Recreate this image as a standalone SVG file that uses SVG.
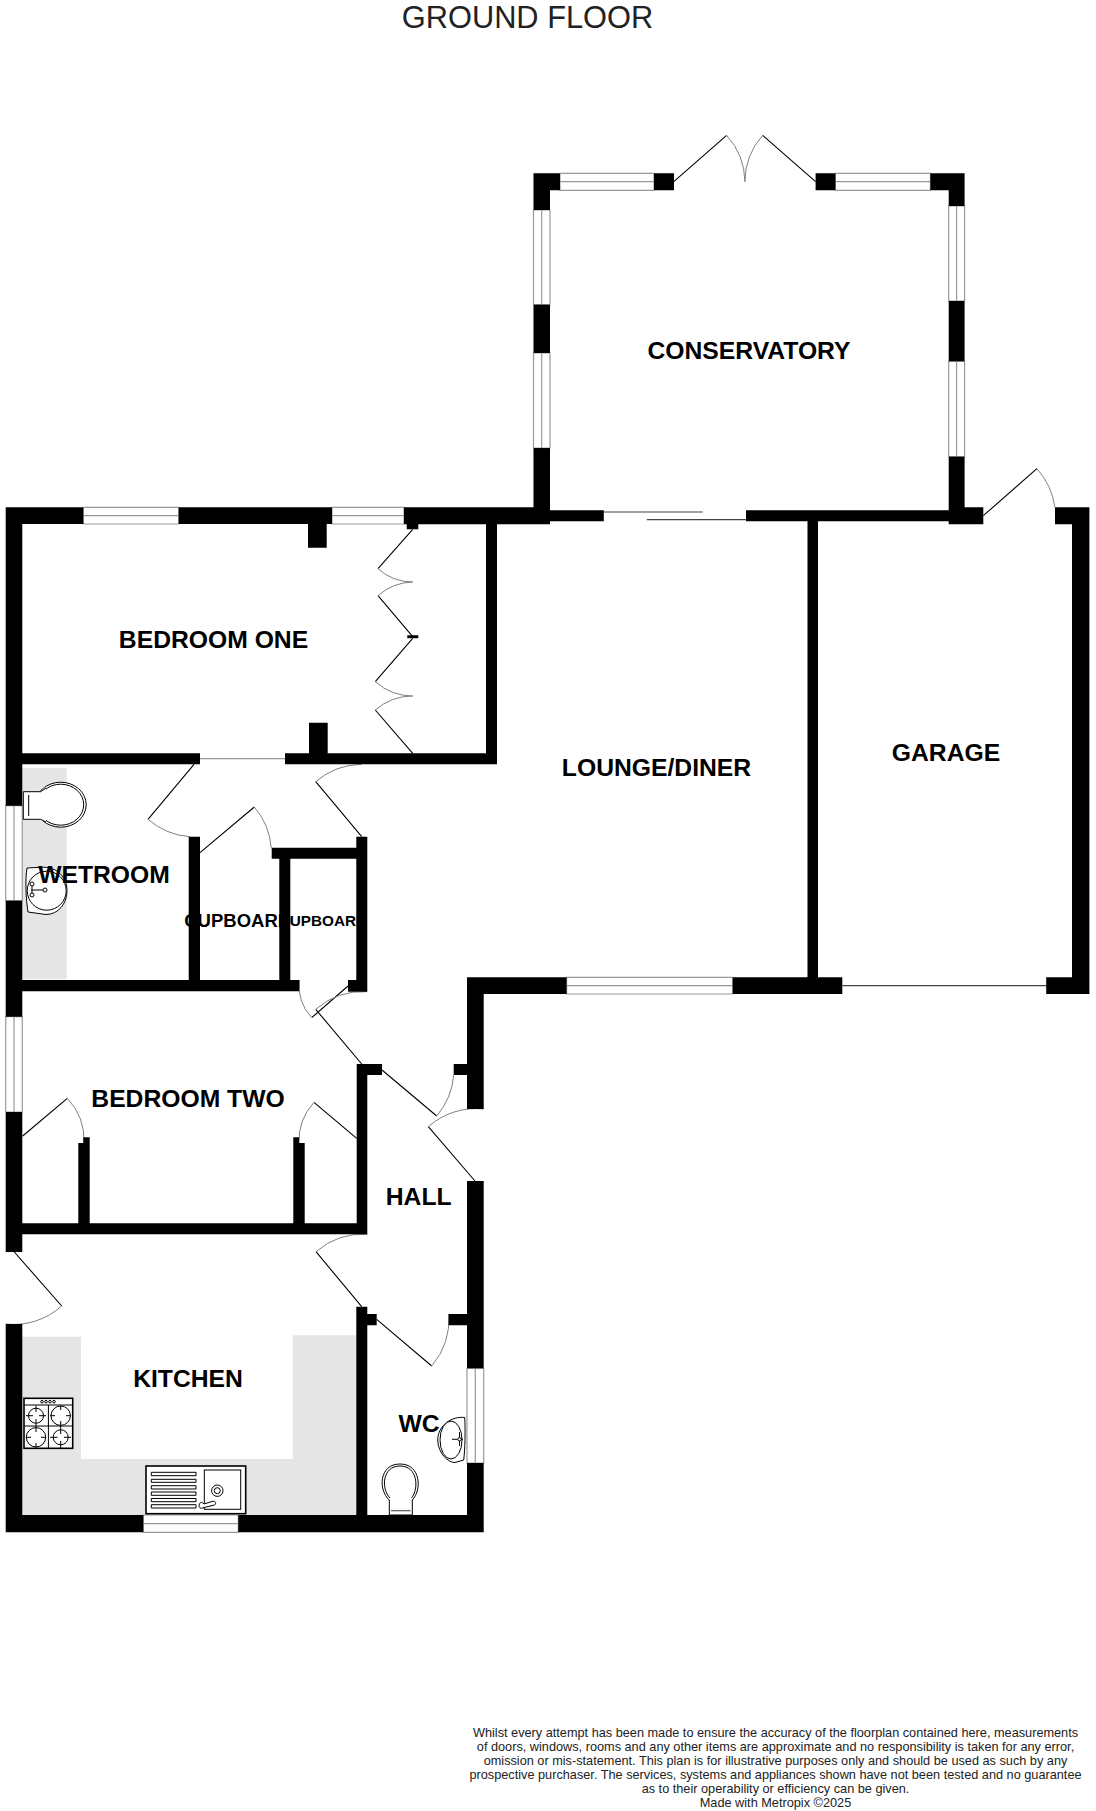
<svg xmlns="http://www.w3.org/2000/svg" width="1096" height="1811" viewBox="0 0 1096 1811">
<style>
text{font-family:"Liberation Sans",Arial,sans-serif;fill:#000;text-anchor:middle}
.room{font-weight:bold;font-size:24.7px}
.note{font-size:12.72px;fill:#222}
.leaf{fill:none;stroke:#000;stroke-width:1.1}
.swing{fill:none;stroke:#808080;stroke-width:1}
.win{fill:#fff;stroke:#999;stroke-width:1.2}
.fx{fill:#fff;stroke:#000;stroke-width:1}
.fxb{fill:#fff;stroke:#000;stroke-width:1.6}
</style>
<rect width="1096" height="1811" fill="#fff"/>
<text x="527.5" y="28" font-size="30.8" style="fill:#222">GROUND FLOOR</text>
<g id="counters" fill="#e5e5e5">
<path d="M22.3 767.7H66.7V979.3H22.3Z"/>
<path d="M22.3 1336.7H81V1459H292.7V1335.3H356.3V1515H22.3Z"/>
</g>
<g id="windows" class="win">
<path d="M560 173.3H654V190.3H560ZM560 181.7H654"/>
<path d="M835.4 173.3H930.4V190.3H835.4ZM835.4 181.7H930.4"/>
<path d="M533.5 210H550V304.7H533.5ZM541.7 210V304.7"/>
<path d="M533.5 353H550V448H533.5ZM541.7 353V448"/>
<path d="M948.7 206H964.6V301H948.7ZM956.6 206V301"/>
<path d="M948.7 361.3H964.6V456.7H948.7ZM956.6 361.3V456.7"/>
<path d="M83.3 507.3H178.7V524H83.3ZM83.3 515.7H178.7"/>
<path d="M332 507.3H404V524H332ZM332 515.7H404"/>
<path d="M5.7 805.7H22.3V900.7H5.7ZM14 805.7V900.7"/>
<path d="M5.7 1016.7H22.3V1112H5.7ZM14 1016.7V1112"/>
<path d="M566.6 977.3H732.7V994H566.6ZM566.6 985.7H732.7"/>
<path d="M143.3 1515H238.3V1532.3H143.3ZM143.3 1523.7H238.3"/>
<path d="M467 1368.3H483.7V1463H467ZM475.3 1368.3V1463"/>
</g>
<g id="fixtures">
<g id="wetroom-toilet">
<ellipse cx="60.7" cy="804.7" rx="25.5" ry="22.5" class="fx"/>
<ellipse cx="60.7" cy="804.7" rx="23" ry="20.5" class="fx"/>
<path d="M40.7 791.7H23.3V819.3H40.7L45 822V787Z" fill="#fff" stroke="none"/>
<path d="M46 788L40.7 791.7H23.3V819.3H40.7L46 822" class="fx"/>
<path d="M28.7 795V816" class="fx"/>
</g>
<g id="wetroom-basin">
<path d="M27 868L40 867.3C58 866 67 878 67 890.7C67 904 58 914.5 46 914.5L28 912C26 900 25 880 27 868Z" class="fx"/>
<circle cx="46.7" cy="890.7" r="19.5" class="fx"/>
<path d="M31 890H44M32 884V897" class="fx"/>
<circle cx="32" cy="884" r="2" class="fx"/><circle cx="32" cy="895" r="2" class="fx"/><circle cx="45" cy="890" r="2" class="fx"/>
</g>
<g id="hob">
<rect x="24" y="1398.3" width="48.7" height="50" class="fxb"/>
<path d="M24 1405H72.7M48.4 1405V1448.3M24 1426H72.7" class="fx"/>
<g class="fx" fill="#fff" stroke-width=".6"><circle cx="42" cy="1401.7" r="1.3"/><circle cx="46" cy="1401.7" r="1.3"/><circle cx="50" cy="1401.7" r="1.3"/><circle cx="54" cy="1401.7" r="1.3"/></g>
<circle cx="36" cy="1415.7" r="7.5" class="fx"/><circle cx="60.7" cy="1415.7" r="9.7" class="fx"/><circle cx="36" cy="1437.3" r="9.7" class="fx"/><circle cx="60.7" cy="1437.3" r="7.5" class="fx"/>
<path d="M36 1405.5V1412M36 1419V1426M26 1415.7H33M39 1415.7H46M60.7 1405.5V1410M60.7 1421V1426M50 1415.7H55M66 1415.7H71M36 1426V1432M36 1443V1448M26 1437.3H31M41 1437.3H46M60.7 1426V1434M60.7 1441V1448M50 1437.3H57.5M64 1437.3H71" class="fx"/>
</g>
<g id="sink">
<rect x="146" y="1466" width="99.7" height="47.7" class="fxb"/>
<rect x="204.3" y="1470" width="36.4" height="39.3" class="fx"/>
<path d="M151.3 1472.3H196V1475.7H151.3ZM151.3 1479.3H196V1482.3H151.3ZM151.3 1485.7H196V1489H151.3ZM151.3 1492H196V1495.3H151.3ZM151.3 1498.5H196V1501.7H151.3ZM151.3 1504.7H196V1508H151.3Z" class="fx" stroke-width=".8"/>
<circle cx="217.3" cy="1490.7" r="5.7" class="fx"/><circle cx="217.3" cy="1490.7" r="3" class="fx"/>
<path d="M199.5 1504C198 1508 201 1509 204 1507.5L214.5 1505C217 1503 215 1500.5 212 1501.5L204 1504C202 1502 200 1502 199.5 1504Z" class="fx"/>
</g>
<g id="wc-toilet">
<path d="M389.3 1515V1500C378 1490 379 1464 400 1464C421 1464 422 1490 412.3 1500V1515Z" class="fx"/>
<path d="M390 1498C381 1489 382 1466 400 1466C418 1466 419 1489 411.5 1498" class="fx"/>
<path d="M391 1510.7H410.5" stroke="#555" fill="none" stroke-width="1.2"/>
</g>
<g id="wc-basin">
<path d="M464.7 1417.5C452 1416 438 1425 437.7 1440C438 1454 449 1463 455 1462.5L463.7 1460C465 1450 465.5 1430 464.7 1417.5Z" class="fx"/>
<ellipse cx="451" cy="1440" rx="11" ry="19" class="fx"/>
<path d="M452 1439.3H463M459.5 1432V1446" class="fx"/><circle cx="459.5" cy="1439.3" r="1.7" class="fx"/>
</g>
</g>
<g id="connectors">
<path d="M673.8 181.7L726.6 135.3M815.6 181.7L762.7 135.3M983.3 515.7L1036.9 468.7M194 764.3L148 819.3M200 852.7L254.3 807M361.7 836.7L315.7 781.7M348 986L311.7 1017.7M361.7 1064L315.7 1009.3M382 1070L436.7 1116M475 1181L428.3 1126.7M22.7 1136L67.3 1098.3M356.7 1138.3L314 1102.3M361.7 1306.7L316 1251.7M376.7 1319.3L431.7 1366M14.3 1252L61.7 1306M412.7 529.3L378 568.7M378 595.7L412.7 636.7M412.7 638.3L375.3 681.7M375.3 710L412.7 753.3" class="leaf"/>
<path d="M726.6 135.3A70 70 0 0 1 744.9 181.7M762.7 135.3A70 70 0 0 0 744.9 181.7M1036.9 468.7A71 71 0 0 1 1054.8 507.3M148 819.3A72 72 0 0 0 190 836.7M254.3 807A71 71 0 0 1 271.3 848.3M315.7 781.7A72 72 0 0 1 361.7 764.3M311.7 1017.7A48 48 0 0 1 299.3 980M315.7 1009.3A72 72 0 0 1 367 991.7M436.7 1116A72 72 0 0 0 453.7 1075M428.3 1126.7A72 72 0 0 1 483.7 1109M67.3 1098.3A61 61 0 0 1 84 1143.3M314 1102.3A57 57 0 0 0 299 1143.3M316 1251.7A72 72 0 0 1 367.3 1234.3M431.7 1366A72 72 0 0 0 448.7 1314M61.7 1306A72 72 0 0 1 5.7 1324M378 568.7A52 52 0 0 0 412.7 582M378 595.7A54 54 0 0 1 412.7 582M375.3 681.7A57 57 0 0 0 412.7 696M375.3 710A57 57 0 0 1 412.7 696" class="swing"/>
<path d="M603.8 512H702.7M646.8 519.7H746M842.3 985.7H1046.2" fill="none" stroke="#444" stroke-width="1.2"/>
<path d="M200 758.7H285" fill="none" stroke="#999" stroke-width="1.2"/>
</g>
<g id="walls" fill="#000">
<path d="M533.5 173.3H560V190.3H550V210H533.5ZM654 173.3H674V190.3H654ZM815.6 173.3H835.4V190.3H815.6ZM930.4 173.3H964.6V206H948.7V190.3H930.4ZM948.7 301H964.6V361.3H948.7ZM533.5 304.7H550V353H533.5ZM533.5 448H550V510.3H603.8V521.3H550V524.3H404V507.3H533.5ZM948.7 456.7H964.6V507.3H983.3V524.3H948.7V521.3H818V977.3H842.3V994H732.7V977.3H807.5V521.3H746V510.3H948.7Z"/>
<path d="M1055 507.3H1089.4V994H1046.2V977.3H1072V524.3H1055ZM467 977.3H566.6V994H483.7V1109H467V1075H453.7V1064H467ZM467 1181H483.7V1368.3H467V1325.3H448.7V1314H467ZM467 1463H483.7V1532.3H238.3V1515H356.3V1306.7H367.3V1314H376.7V1325.3H367.3V1515H467ZM5.7 1324H22.3V1515H143.3V1532.3H5.7ZM5.7 1112H22.3V1223.3H78.3V1143H83.3V1137.3H89.7V1223.3H293.3V1137.3H299V1143H304.7V1223.3H356.7V1075V1064H382V1075H367.3V1234.3H22.3V1252H5.7ZM5.7 900.7H22.3V980H188.7V836.7H200V980H279.3V858.7H271.7V847.7H356.3V836.7H367.3V991.7H348V980H356.3V858.7H290.3V980H299.3V991.3H22.3V1016.7H5.7ZM5.7 507.3H83.3V524H22.3V753.3H200V764.3H22.3V805.7H5.7ZM178.7 507.3H332V524H326.7V547.7H308V524H178.7ZM406.7 524H418.3V529.3H406.7ZM486 524H497V764.3H285V753.3H309V722.7H327.7V753.3H486ZM407.3 635.3H418.3V638.3H407.3Z"/>
</g>
<g id="labels">
<text class="room" x="749" y="359.3">CONSERVATORY</text>
<text class="room" x="213.5" y="647.7">BEDROOM ONE</text>
<text class="room" x="656.5" y="776">LOUNGE/DINER</text>
<text class="room" x="946" y="761">GARAGE</text>
<text class="room" x="104" y="882.7">WETROOM</text>
<text class="room" x="188" y="1106.7">BEDROOM TWO</text>
<text class="room" x="418.7" y="1205">HALL</text>
<text class="room" x="188" y="1386.7">KITCHEN</text>
<text class="room" x="419" y="1431.7">WC</text>
<text font-weight="bold" font-size="18.5" x="237.7" y="926.7">CUPBOARD</text>
<text font-weight="bold" font-size="15.3" x="322.9" y="925.7">CUPBOARD</text>
</g>
<g id="disclaimer">
<text class="note" x="775.5" y="1737">Whilst every attempt has been made to ensure the accuracy of the floorplan contained here, measurements</text>
<text class="note" x="775.5" y="1751">of doors, windows, rooms and any other items are approximate and no responsibility is taken for any error,</text>
<text class="note" x="775.5" y="1765">omission or mis-statement. This plan is for illustrative purposes only and should be used as such by any</text>
<text class="note" x="775.5" y="1779">prospective purchaser. The services, systems and appliances shown have not been tested and no guarantee</text>
<text class="note" x="775.5" y="1793">as to their operability or efficiency can be given.</text>
<text class="note" x="775.5" y="1807">Made with Metropix ©2025</text>
</g>
</svg>
